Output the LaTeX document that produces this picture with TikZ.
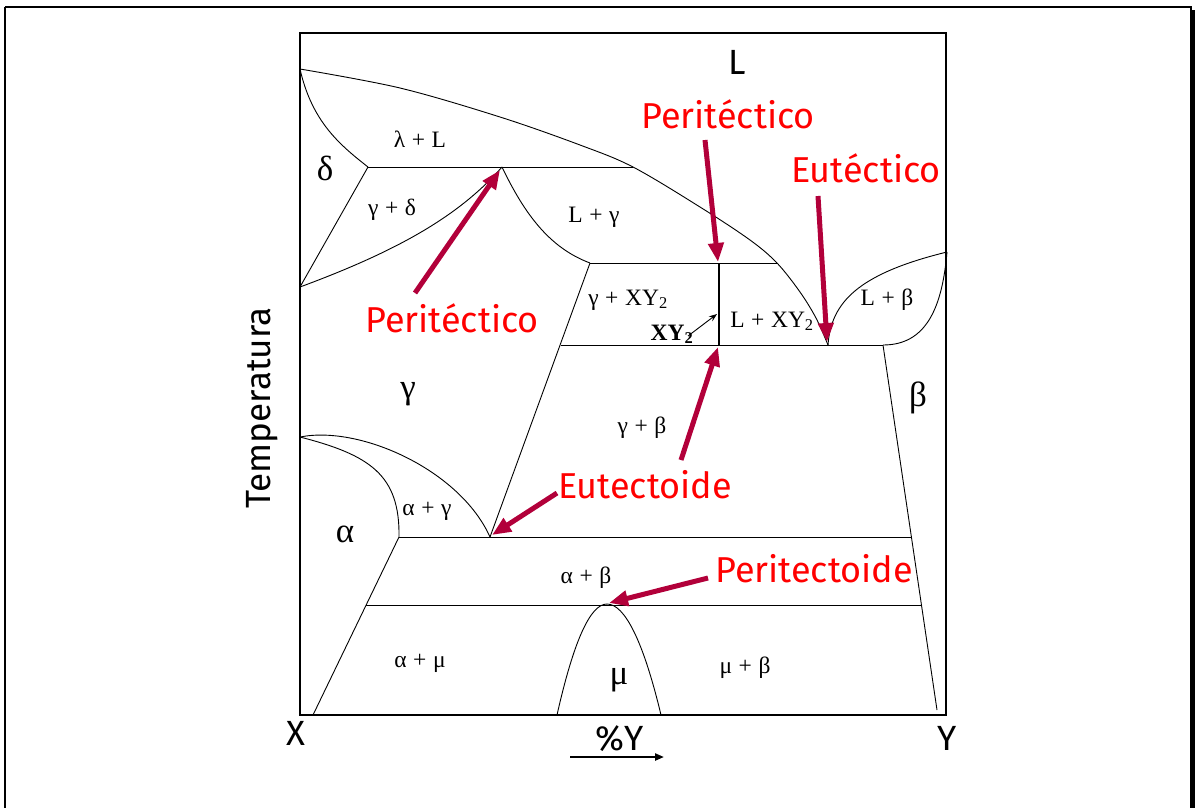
\documentclass[tikz,border=0pt]{standalone}
\usepackage{fontspec}
\setmainfont{Liberation Serif}
\newfontfamily\comic{Fira Sans}
\usetikzlibrary{arrows.meta}
\definecolor{lab}{RGB}{255,0,0}
\definecolor{arr}{RGB}{178,0,58}
\newcommand{\pl}{\hspace{0.28em}+\hspace{0.28em}}
\begin{document}
\begin{tikzpicture}[x=1pt,y=-1pt,
  phase/.style={font=\fontsize{23.5}{23.5}\selectfont, anchor=base, inner sep=0pt},
  big/.style={font=\fontsize{35}{35}\selectfont, anchor=base, inner sep=0pt},
  redlabel/.style={font=\comic\fontsize{36}{36}\selectfont, text=lab, anchor=base, inner sep=0pt},
  sans/.style={font=\comic\fontsize{35}{35}\selectfont, anchor=base, inner sep=0pt},
  bd/.style={line width=0.9pt},
  redarrow/.style={arr, line width=5pt, -{Triangle[length=19pt,width=15pt]}},
]
\useasboundingbox (0,0) rectangle (1195,807);
\clip (0,0) rectangle (1195,807);
% outer frame
\draw[line width=1.2pt] (5,7) -- (1191,7) -- (1191,830);
\draw[line width=1.2pt] (5,7) -- (5,830);
\draw[line width=2.5pt] (1193.5,10) -- (1193.5,830);

% key points
\coordinate (pL) at (300,69);
\coordinate (pD) at (368,167);
\coordinate (pP) at (502,167);
\coordinate (pPR) at (633,167);
\coordinate (pDB) at (300,287);
\coordinate (pG1) at (590,263);
\coordinate (pG2) at (777,263);
\coordinate (pXt) at (719,263);
\coordinate (pXb) at (719,345);
\coordinate (pE) at (828,345);
\coordinate (pEL) at (561,345);
\coordinate (pER) at (883,345);
\coordinate (pBR) at (947,252);
\coordinate (pA0) at (300,437);
\coordinate (pED) at (490,537);
\coordinate (pAL) at (399,537);
\coordinate (pEDR) at (912,537);
\coordinate (pPTL) at (366,605);
\coordinate (pPT) at (607,604);
\coordinate (pPTR) at (921,605);
\coordinate (pAB) at (313,715);
\coordinate (pBB) at (937,710);
\coordinate (pM1) at (557,715);
\coordinate (pM2) at (661,715);

% diagram box
\draw[line width=1.3pt] (300,33) rectangle (946,715);

% liquidus
\draw[bd] plot[smooth, tension=0.55] coordinates {(300,69) (400,88) (500,117) (580,145) (633,167) (700,207) (750,240) (777,263) (800,292) (816,318) (828,345)};
% delta region
\draw[bd] (pL) .. controls (312,122) and (340,145) .. (pD);
\draw[bd] (pD) -- (pDB);
\draw[bd] (pD) -- (pPR);
\draw[bd] (pDB) .. controls (400,250) and (460,215) .. (pP);
\draw[bd] (pP) .. controls (525,215) and (550,248) .. (pG1);
\draw[bd] (pG1) -- (pG2);
\draw[bd] (pG1) -- (pED);
\draw[line width=2.2pt] (pXt) -- (pXb);
\draw[bd] (pEL) -- (pER);
% L + beta
\draw[bd] (pE) .. controls (831,303) and (857,274) .. (pBR);
\draw[bd] (pER) .. controls (925,345) and (942,310) .. (pBR);
\draw[bd] (pER) -- (pBB);
% alpha + gamma
\draw[bd] (pA0) .. controls (360,425) and (460,470) .. (pED);
\draw[bd] (pA0) .. controls (370,455) and (400,475) .. (pAL);
\draw[bd] (pAL) -- (pEDR);
\draw[bd] (pAL) -- (pAB);
\draw[bd] (pPTL) -- (pPTR);
% mu
\draw[bd] (pM1) .. controls (573.7,641) and (590.3,604) .. (pPT) .. controls (624.7,604) and (643.3,641) .. (pM2);

% phase labels
\node[sans] (lL) at (737,74) {L};
\node[phase] (lLamL) at (420,147) {λ\pl L};
\node[big] (lDelta) at (325,180) {δ};
\node[phase] (lGD) at (392,215) {γ\pl δ};
\node[phase] (lLG) at (594,222) {L\pl γ};
\node[phase] (lGX) at (628,305) {γ\pl XY\textsubscript{2}};
\node[phase,font=\fontsize{23.5}{23.5}\selectfont\bfseries] (lXY) at (672,340) {XY\textsubscript{2}};
\node[phase] (lLX) at (772,327) {L\pl XY\textsubscript{2}};
\node[phase] (lLB) at (887,305) {L\pl β};
\node[big] (lGam) at (408,398) {γ};
\node[big] (lBet) at (918,406) {β};
\node[phase] (lGB) at (642,433) {γ\pl β};
\node[phase] (lAG) at (427,515) {α\pl γ};
\node[big] (lAlp) at (345,542) {α};
\node[phase] (lAB) at (586,583) {α\pl β};
\node[phase] (lAM) at (420,667) {α\pl μ};
\node[big] (lMu) at (619,684) {μ};
\node[phase] (lMB) at (745,673) {μ\pl β};

% axis labels
\node[sans] (lX) at (296,745) {X};
\node[sans] (lY) at (947,750) {Y};
\node[sans] (lPY) at (620,750) {\%Y};
\node[sans, rotate=90] (lT) at (270,408) {Temperatura};
\coordinate (ax0) at (570,757);
\coordinate (ax1) at (664,757);
\draw[line width=2.2pt, -{Triangle[length=9pt,width=7pt]}] (ax0) -- (ax1);

% XY2 pointer
\coordinate (xa0) at (688,336);
\coordinate (xa1) at (717,314);
\draw[line width=0.9pt, -{Stealth[length=8pt,width=6pt]}] (xa0) -- (xa1);

% red labels
\node[redlabel] (r1) at (728,128) {Peritéctico};
\node[redlabel] (r2) at (866,182) {Eutéctico};
\node[redlabel] (r3) at (452,332) {Peritéctico};
\node[redlabel] (r4) at (645,498) {Eutectoide};
\node[redlabel] (r5) at (814,582) {Peritectoide};

% red arrows
\coordinate (t1) at (705,140);
\coordinate (t2) at (818,196);
\coordinate (t3) at (415,293);
\coordinate (t4) at (557,493);
\coordinate (t5) at (681,460);
\coordinate (t6) at (708,578);
\coordinate (h1) at (718,262);
\coordinate (h2) at (827,342);
\coordinate (h3) at (500,170);
\coordinate (h4) at (492,535);
\coordinate (h5) at (718,347);
\coordinate (h6) at (609,603);
\draw[redarrow] (t1) -- (h1);
\draw[redarrow] (t2) -- (h2);
\draw[redarrow] (t3) -- (h3);
\draw[redarrow] (t4) -- (h4);
\draw[redarrow] (t5) -- (h5);
\draw[redarrow] (t6) -- (h6);
\end{tikzpicture}
\end{document}
